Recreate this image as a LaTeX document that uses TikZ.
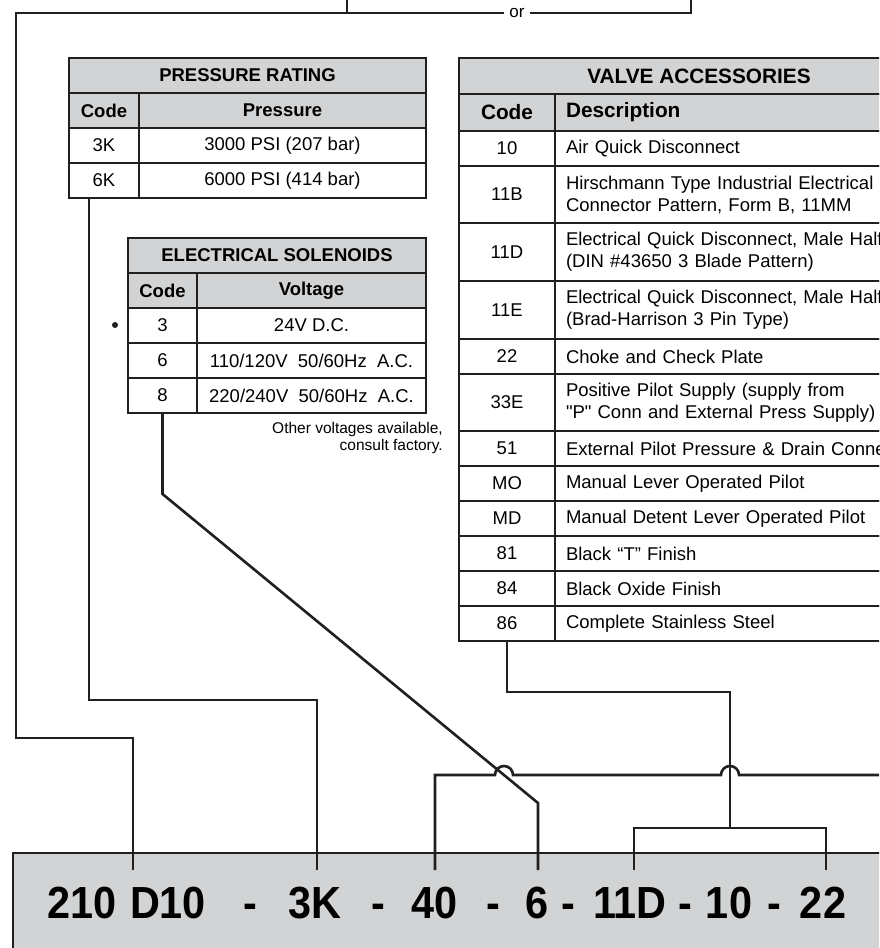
\documentclass[tikz,border=0pt]{standalone}
\usepackage{fontspec}
\setmainfont{Liberation Sans}
\newfontfamily\straightfont{Liberation Sans}
\usepackage{tikz}
\usetikzlibrary{positioning, calc}
\definecolor{inkgray}{HTML}{231F20}
\definecolor{bargray}{HTML}{D1D3D4}
\newcommand{\sq}{{\straightfont"}}

\tikzset{
  cell/.style={draw=inkgray, line width=2pt, inner sep=0pt, anchor=north west,
    font=\fontsize{18.5}{22}\selectfont},
  hcell/.style={cell, fill=bargray, font=\bfseries\fontsize{18.5}{22}\selectfont},
  vhcell/.style={hcell, font=\bfseries\fontsize{20.8}{24}\selectfont},
  desccell/.style={cell, minimum width=384pt, inner xsep=11pt, text width=362pt, align=left},
  wire/.style={draw=inkgray, line width=2.6pt},
  partno/.style={anchor=base, inner sep=0pt, font=\bfseries\fontsize{45}{45}\selectfont},
}

\begin{document}
\begin{tikzpicture}[x=1pt, y=1pt, yscale=-1]
  \useasboundingbox (0,0) rectangle (879,948);
  \clip (0,0) rectangle (879,948);

  % pressure rating
  \node[hcell, minimum width=357pt, minimum height=35pt] (pr-title) at (68,57) {PRESSURE RATING};
  \node[hcell, minimum width=70pt, minimum height=35pt] (pr-code) at (68,92) {Code};
  \node[hcell, minimum width=287pt, minimum height=35pt] (pr-head) at (138,92) {Pressure};
  \foreach \y/\c/\v [count=\i] in {127/3K/{3000 PSI (207 bar)}, 162/6K/{6000 PSI (414 bar)}}{
    \node[cell, minimum width=70pt, minimum height=35pt] (pr-c\i) at (68,\y) {\c};
    \node[cell, minimum width=287pt, minimum height=35pt] (pr-v\i) at (138,\y) {\v};
  }

  % electrical solenoids
  \node[hcell, minimum width=298pt, minimum height=35pt] (es-title) at (127,237) {ELECTRICAL SOLENOIDS};
  \node[hcell, minimum width=69pt, minimum height=35pt] (es-code) at (127,272) {Code};
  \node[hcell, minimum width=229pt, minimum height=35pt] (es-head) at (196,272) {Voltage};
  \foreach \y/\c/\v [count=\i] in {307/3/{24V D.C.}, 342/6/{110/120V\ \ 50/60Hz\ \ A.C.},
      377/8/{220/240V\ \ 50/60Hz\ \ A.C.}}{
    \node[cell, minimum width=69pt, minimum height=35pt] (es-c\i) at (127,\y) {\c};
    \node[cell, minimum width=229pt, minimum height=35pt] (es-v\i) at (196,\y) {\v};
  }
  \node[circle, fill=inkgray, minimum size=6pt, inner sep=0pt] (es-dot) at (115,325) {};
  \node[anchor=north east, align=right, inner sep=0pt, font=\fontsize{15.5}{17.5}\selectfont]
    (es-note) at (443,422) {Other voltages available,\\consult factory.};

  % valve accessories
  \node[vhcell, minimum width=480pt, minimum height=36pt] (va-title) at (458,57) {VALVE ACCESSORIES};
  \node[vhcell, minimum width=96pt, minimum height=37pt] (va-code) at (458,93) {Code};
  \node[vhcell, minimum width=384pt, minimum height=37pt, inner xsep=11pt, text width=362pt,
    align=left] (va-head) at (554,93) {Description};
  \foreach \y/\h/\c/\d [count=\i] in {
      130/35/10/{Air Quick Disconnect},
      165/57/11B/{Hirschmann Type Industrial Electrical\\Connector Pattern, Form B, 11MM},
      222/58/11D/{Electrical Quick Disconnect, Male Half\\(DIN \#43650 3 Blade Pattern)},
      280/58/11E/{Electrical Quick Disconnect, Male Half\\(Brad-Harrison 3 Pin Type)},
      338/35/22/{Choke and Check Plate},
      373/57/33E/{Positive Pilot Supply (supply from\\\sq P\sq{} Conn and External Press Supply)},
      430/35/51/{External Pilot Pressure \& Drain Connection},
      465/35/MO/{Manual Lever Operated Pilot},
      500/35/MD/{Manual Detent Lever Operated Pilot},
      535/35/81/{Black “T” Finish},
      570/35/84/{Black Oxide Finish},
      605/35/86/{Complete Stainless Steel}}{
    \node[cell, minimum width=96pt, minimum height=\h pt] (va-c\i) at (458,\y) {\c};
    \node[desccell, minimum height=\h pt] (va-d\i) at (554,\y) {\d};
  }

  % model code bar
  \draw[draw=inkgray, line width=2.6pt, fill=bargray] (13,853) rectangle (900,960);
  \foreach \x/\s [count=\k] in {82/210, 168/D10, 250/-, 315/3K, 378/-, 435/40, 493/-,
      537/6, 568/-, 630/11D, 685/-, 729/10, 774/-, 823/22}
    \node[partno] (pn-\k) at (\x,918) {\scalebox{.92}[1]{\s}};

  \coordinate (t-d10) at (133,870);
  \coordinate (t-3k) at (317,870);
  \coordinate (t-40) at (435,870);
  \coordinate (t-6) at (538,870);
  \coordinate (t-11d) at (634,870);
  \coordinate (t-22) at (826,870);

  % top: two series joined by "or"
  \coordinate (top-a) at (347,0);
  \coordinate (top-b) at (691,0);
  \node[font=\fontsize{17}{17}\selectfont, inner xsep=5pt, inner ysep=0pt] (alt) at (517,13) {or};
  \draw[wire] (top-b) |- (alt.east);
  \draw[wire] (top-a) -- (top-a |- alt.west);
  \draw[wire] (alt.west) -| (16,738) -| (t-d10);

  % pressure and solenoid leads
  \draw[wire] ([xshift=-15pt]pr-c2.south) -- ++(0,501) -| (t-3k);
  \draw[wire] (es-c3.south) -- ++(0,80) -- ($(t-6)+(0,-67)$) -- (t-6);

  % lead with hops
  \draw[wire] (t-40) -- ++(0,-95) -- (495,775) arc(180:360:9) -- (721,775) arc(180:360:9) -- (890,775);

  % accessories bracket
  \coordinate (br) at (730,828);
  \draw[wire] (va-c12.south) -- ++(0,50) -| (br);
  \draw[wire] (t-11d) |- (br) -| (t-22);
\end{tikzpicture}
\end{document}
